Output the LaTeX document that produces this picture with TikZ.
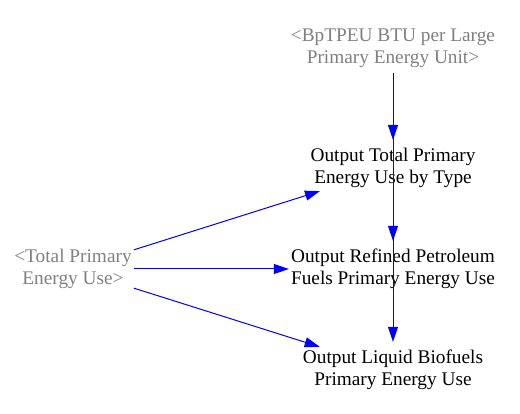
\documentclass[tikz,border=0pt]{standalone}
\usepackage{fontspec}
\setmainfont{Liberation Serif}
\usetikzlibrary{arrows.meta}
\definecolor{vblue}{RGB}{0,0,255}
\definecolor{vgray}{RGB}{128,128,128}
\begin{document}
\begin{tikzpicture}[x=1pt,y=-1pt,
  var/.style={align=center,font=\fontsize{19.3}{22.2}\selectfont,inner xsep=2pt,inner ysep=3pt},
  shadow/.style={var,text=vgray},
  arr/.style={draw=vblue,line width=1pt,-{Triangle[length=15pt,width=10pt]},vblue}]
\useasboundingbox (0,0) rectangle (520,414);
\node[shadow,inner ysep=5pt] (bp) at (393,48.5) {<BpTPEU BTU per Large\\Primary Energy Unit>};
\node[shadow] (tpe) at (73,269) {<Total Primary\\Energy Use>};
\node[var] (tot) at (393,168) {Output Total Primary\\Energy Use by Type};
\node[var] (ref) at (393,269) {Output Refined Petroleum\\Fuels Primary Energy Use};
\node[var] (lb) at (393,370) {Output Liquid Biofuels\\Primary Energy Use};
\draw[arr,shorten >=5pt] (bp.south) -- (tot.north);
\draw[arr,shorten >=5pt] (bp.south) -- (ref.north);
\draw[arr,shorten >=5pt] (bp.south) -- (lb.north);
\draw[arr] (tpe) -- (tot);
\draw[arr] (tpe.east) -- (ref.west);
\draw[arr] (tpe) -- (lb);
\end{tikzpicture}
\end{document}
